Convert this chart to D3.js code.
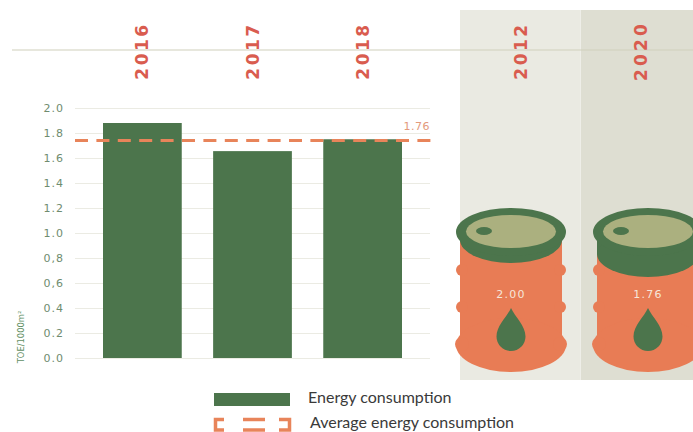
<!DOCTYPE html>
<html><head><meta charset="utf-8">
<script src="https://cdn.jsdelivr.net/npm/d3@7"></script>
<style>html,body{margin:0;padding:0;background:#fff;overflow:hidden}svg{display:block}</style>
</head><body><svg id="c" width="693" height="432"></svg>
<script>
const categories = ["2016","2017","2018"];
const consumption = [1.88,1.655,1.75];
const averageValue = 1.74;
const averageLabel = "1.76";
const tickValues = [0,0.2,0.4,0.6,0.8,1.0,1.2,1.4,1.6,1.8,2.0];
const tickLabels = ["0.0","0.2","0.4","0,6","0,8","1.0","1.2","1.4","1.6","1.8","2.0"];
const barrelYears = ["2012","2020"];
const barrelValues = [2.00,1.76];
const legendLabels = ["Energy consumption","Average energy consumption"];

const GREEN="#4c754c", ORANGE="#e87c55", RED="#d95c4f", LABEL="#6f8c6f", GRID="#ebebe3";
const BODY="DejaVu Sans, sans-serif";
const svg=d3.select("#c");

const y=d3.scaleLinear().domain([0,2]).range([358,108]);
const x=d3.scaleBand().domain(categories).range([103,402]).paddingInner(0.285).paddingOuter(0);
const xPanel=d3.scaleBand().domain(barrelYears).range([460,701]);

// panels
svg.selectAll("rect.panel").data(barrelYears).join("rect").attr("class","panel")
  .attr("x",d=>xPanel(d)).attr("y",10).attr("width",(d,i)=>i?113:120).attr("height",370)
  .attr("fill",(d,i)=>i?"#deded2":"#eaeae2");

// top rule
svg.append("line").attr("x1",12).attr("x2",693).attr("y1",50).attr("y2",50)
  .attr("stroke","#cfcfbc").attr("stroke-opacity",0.5).attr("stroke-width",2);

// rotated year headings
const heading=(d,cx,cy,sp)=>svg.append("text").text(d)
  .attr("transform",`translate(${cx},${cy}) rotate(-90)`)
  .attr("text-anchor","middle").attr("fill",RED)
  .attr("font-family",BODY).attr("font-weight",700).attr("font-size",17).attr("letter-spacing",sp).attr("dy","0.36em");
categories.forEach(d=>heading(d,x(d)+x.bandwidth()/2,51,2.5));
barrelYears.forEach((d,i)=>heading(d,i?641:521,i?51:51,i?3.2:2.5));

// axis
const axis=d3.axisLeft(y).tickValues(tickValues).tickFormat((d,i)=>tickLabels[i]).tickSize(-355).tickPadding(11);
const ag=svg.append("g").attr("transform","translate(75,0)").call(axis);
ag.select(".domain").remove();
ag.selectAll(".tick line").attr("stroke",GRID).attr("stroke-width",1);
ag.selectAll(".tick text").attr("fill",LABEL).attr("font-family",BODY).attr("font-size",11).attr("letter-spacing",1).attr("x",-11);

// bars
svg.selectAll("rect.bar").data(categories).join("rect").attr("class","bar")
  .attr("x",d=>x(d)).attr("width",x.bandwidth())
  .attr("y",(d,i)=>y(consumption[i])).attr("height",(d,i)=>y(0)-y(consumption[i])).attr("fill",GREEN);

// average
svg.append("line").attr("x1",75).attr("x2",432).attr("y1",y(averageValue)).attr("y2",y(averageValue))
  .attr("stroke","#e8845a").attr("stroke-width",3).attr("stroke-dasharray","13 8.4");
svg.append("text").text(averageLabel).attr("x",430).attr("y",130).attr("text-anchor","end")
  .attr("fill","#e39a7c").attr("font-family",BODY).attr("font-size",11).attr("letter-spacing",0.5);

// unit
svg.append("text").text("TOE/1000m²").attr("transform","translate(21,337) rotate(-90)")
  .attr("text-anchor","middle").attr("dy","0.35em").attr("fill","#5f8f63")
  .attr("font-family",BODY).attr("font-size",8.4);

// barrels
const level=d3.scaleLinear().domain([2.0,1.76]).range([240,254]);
const barrelX=[511,648];
barrelValues.forEach((v,i)=>{
  const cx=barrelX[i], g=svg.append("g");
  // body
  g.append("rect").attr("x",cx-51).attr("y",240).attr("width",102).attr("height",110).attr("fill",ORANGE);
  g.append("ellipse").attr("cx",cx).attr("cy",345).attr("rx",55).attr("ry",27).attr("fill",ORANGE);
  [-1,1].forEach(s=>{
    [270,307,344].forEach(by=>g.append("circle").attr("cx",cx+s*49).attr("cy",by).attr("r",by===344?7:6).attr("fill",ORANGE));
  });
  // fill level
  const ly=level(v);
  g.append("rect").attr("x",cx-51).attr("y",232).attr("width",102).attr("height",ly-232).attr("fill",GREEN);
  g.append("ellipse").attr("cx",cx).attr("cy",ly).attr("rx",51).attr("ry",23).attr("fill",GREEN);
  // lid
  g.append("ellipse").attr("cx",cx).attr("cy",232).attr("rx",55).attr("ry",24).attr("fill",GREEN);
  g.append("ellipse").attr("cx",cx).attr("cy",231.5).attr("rx",45).attr("ry",16.5).attr("fill","#abb07f");
  g.append("ellipse").attr("cx",cx-27).attr("cy",231).attr("rx",8).attr("ry",4).attr("fill",GREEN);
  // value
  g.append("text").text(v.toFixed(2)).attr("x",cx).attr("y",294).attr("dy","0.36em").attr("text-anchor","middle")
    .attr("fill","#f6e6da").attr("font-family",BODY).attr("font-size",11).attr("letter-spacing",1.2);
  // drop
  const r=14.5, cy=336.5, top=308;
  const dp=d3.path();
  dp.moveTo(cx,top);
  dp.bezierCurveTo(cx+4,top+9,cx+r,cy-11,cx+r,cy);
  dp.arc(cx,cy,r,0,Math.PI,false);
  dp.bezierCurveTo(cx-r,cy-11,cx-4,top+9,cx,top);
  g.append("path").attr("d",dp.toString()).attr("fill",GREEN);
});

// legend
svg.append("rect").attr("x",214).attr("y",393).attr("width",76).attr("height",13).attr("fill",GREEN);
const lc="#e8845a";
const lg=svg.append("g").attr("fill","none").attr("stroke",lc).attr("stroke-width",3.5);
const lineP=d3.line();
lg.append("path").attr("d",lineP([[224,419.5],[215.5,419.5],[215.5,430],[224,430]]));
lg.append("path").attr("d",lineP([[279,419.5],[289.5,419.5],[289.5,430],[279,430]]));
lg.append("path").attr("d",lineP([[243,419.5],[265,419.5]]));
lg.append("path").attr("d",lineP([[243,430],[265,430]]));
svg.selectAll("text.leg").data(legendLabels).join("text").attr("class","leg").text(d=>d)
  .attr("x",(d,i)=>i?310:308).attr("y",(d,i)=>i?428:403)
  .attr("fill","#3a3a3a").attr("font-family","Lato, sans-serif").attr("font-size",16);
</script></body></html>
